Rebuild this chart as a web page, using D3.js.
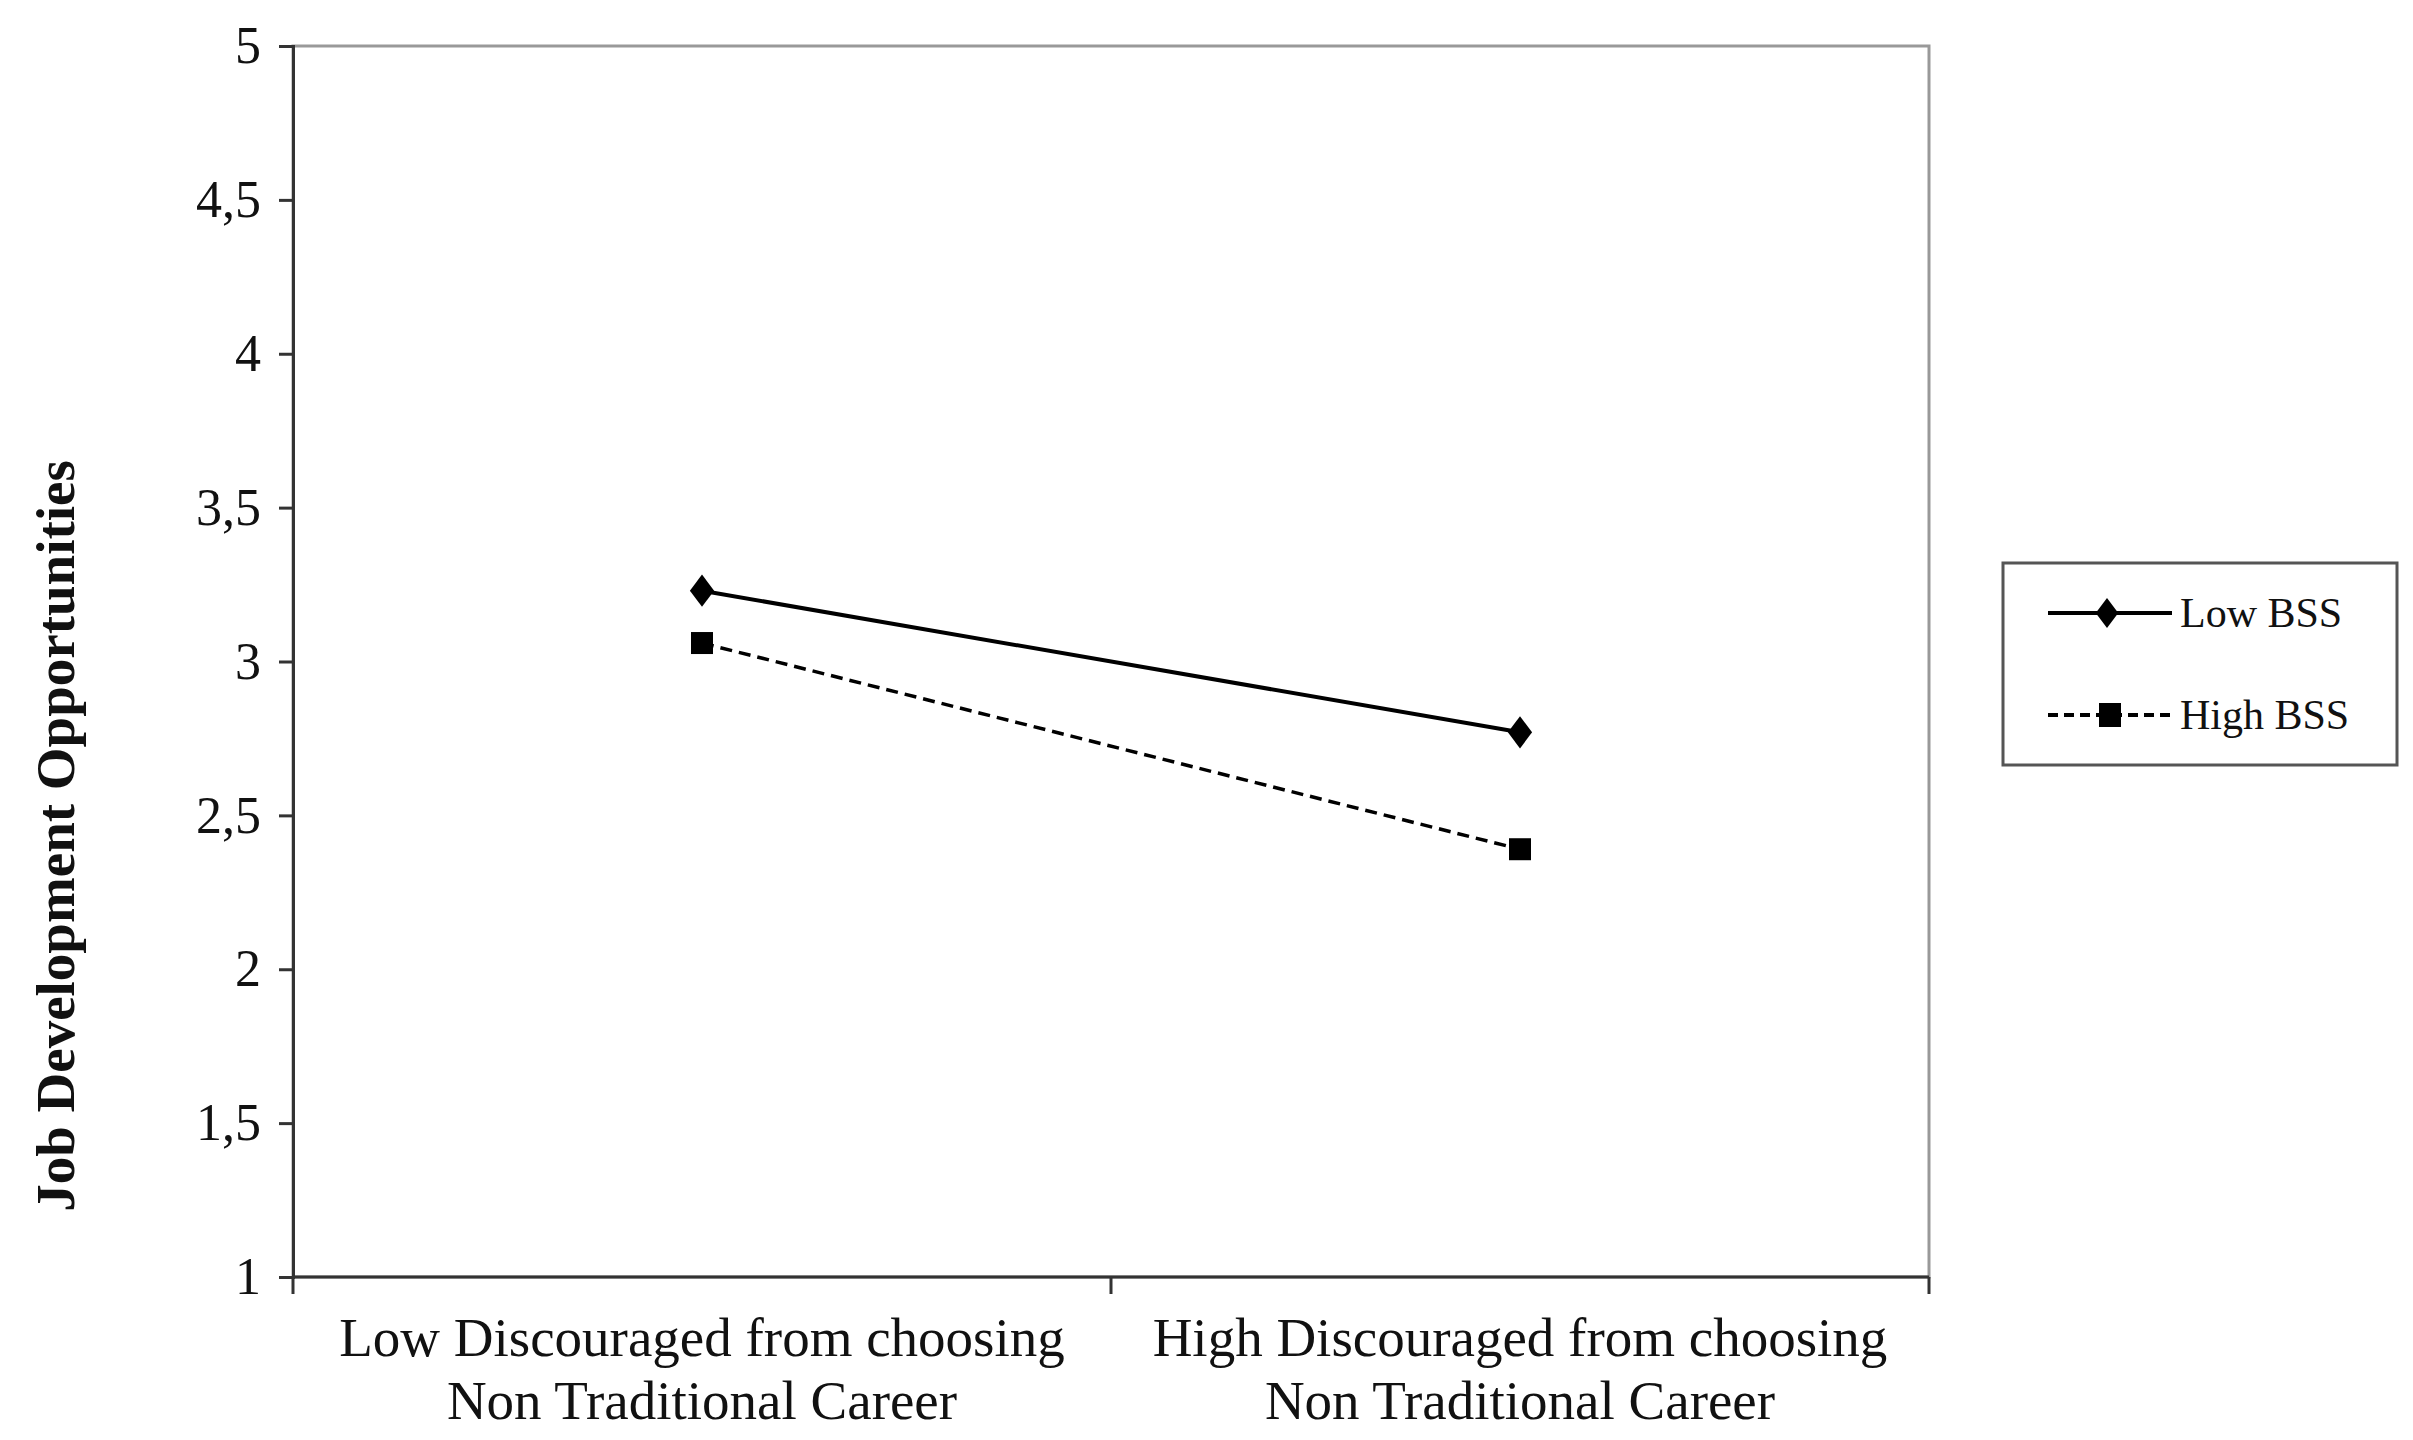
<!DOCTYPE html>
<meta charset="utf-8">
<style>
body{margin:0;background:#fff;}
text{font-family:"Liberation Serif","DejaVu Serif",serif;fill:#111;}
.tick text{font-size:52px;}
.xlab{font-size:55px;text-anchor:middle;}
.leg{font-size:42px;}
</style>
<body>
<script src="https://d3js.org/d3.v7.min.js"></script>
<script>
var categories=[["Low Discouraged from choosing","Non Traditional Career"],["High Discouraged from choosing","Non Traditional Career"]];
var seriesNames=["Low BSS","High BSS"];
var lowBSS=[3.23,2.77];
var highBSS=[3.06,2.39];
var yTicks=[1,1.5,2,2.5,3,3.5,4,4.5,5];

var svg=d3.select("body").append("svg").attr("width",2413).attr("height",1440);
var L=293,R=1929,T=46,B=1277;

var x=d3.scaleBand().domain([0,1]).range([L,R]);
var y=d3.scaleLinear().domain([1,5]).range([B,T]);

// frame
svg.append("rect").attr("x",L).attr("y",T).attr("width",R-L).attr("height",B-T)
	.attr("fill","none").attr("stroke","#999").attr("stroke-width",3);

var ya=svg.append("g").attr("transform","translate("+L+",0)")
	.call(d3.axisLeft(y).tickValues(yTicks).tickSize(14).tickPadding(18)
		.tickFormat(d=>String(d).replace(".",",")));
ya.selectAll("path,line").attr("stroke","#333").attr("stroke-width",3);

var xa=svg.append("g").attr("transform","translate(0,"+B+")");
xa.append("line").attr("x1",L).attr("x2",R).attr("stroke","#333").attr("stroke-width",3);
[L,(L+R)/2,R].forEach(function(p){
	xa.append("line").attr("x1",p).attr("x2",p).attr("y1",0).attr("y2",17).attr("stroke","#333").attr("stroke-width",3);
});
categories.forEach(function(c,i){
	var t=svg.append("text").attr("class","xlab").attr("x",x(i)+x.bandwidth()/2).attr("y",1356);
	t.append("tspan").text(c[0]);
	t.append("tspan").attr("x",x(i)+x.bandwidth()/2).attr("dy",63).text(c[1]);
});

svg.append("text").attr("transform","translate(74,836) rotate(-90)")
	.attr("text-anchor","middle").style("font-size","55px").style("font-weight","bold")
	.text("Job Development Opportunities");

var line=d3.line().x((d,i)=>x(i)+x.bandwidth()/2).y(d=>y(d));
var cx=(d,i)=>x(i)+x.bandwidth()/2;

svg.append("path").datum(lowBSS).attr("d",line).attr("fill","none").attr("stroke","#000").attr("stroke-width",4);
svg.append("path").datum(highBSS).attr("d",line).attr("fill","none").attr("stroke","#000").attr("stroke-width",3.5).attr("stroke-dasharray","12,7");

svg.selectAll(".dia").data(lowBSS).enter().append("path")
	.attr("transform",(d,i)=>"translate("+cx(d,i)+","+y(d)+") scale(1.3,1)")
	.attr("d",d3.symbol().type(d3.symbolDiamond).size(300));
svg.selectAll(".sq").data(highBSS).enter().append("rect")
	.attr("x",(d,i)=>cx(d,i)-11).attr("y",d=>y(d)-11).attr("width",22).attr("height",22);

// legend
svg.append("rect").attr("x",2003).attr("y",563).attr("width",394).attr("height",202)
	.attr("fill","none").attr("stroke","#555").attr("stroke-width",3);
[613,715].forEach(function(ly,i){
	svg.append("line").attr("x1",2048).attr("x2",2172).attr("y1",ly).attr("y2",ly)
		.attr("stroke","#000").attr("stroke-width",4).attr("stroke-dasharray",i?"10,6":null);
	if(i) svg.append("rect").attr("x",2099).attr("y",ly-12).attr("width",22).attr("height",24);
	else svg.append("path").attr("transform","translate(2107,"+ly+") scale(1.3,1)").attr("d",d3.symbol().type(d3.symbolDiamond).size(260));
	svg.append("text").attr("class","leg").attr("x",2180).attr("y",ly+14).text(seriesNames[i]);
});
</script>
</body>
</html>
